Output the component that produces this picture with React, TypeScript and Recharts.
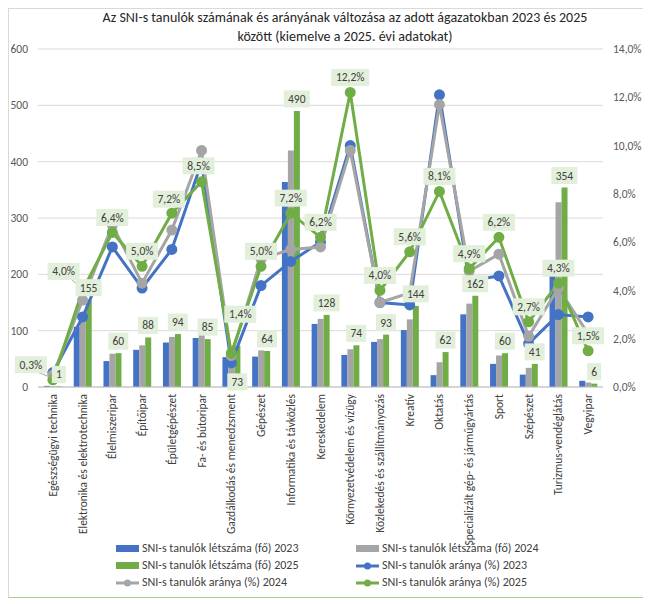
import {
    Bar,
    CartesianGrid,
    ComposedChart,
    LabelList,
    Line,
    XAxis,
    YAxis,
} from 'recharts';

const categories = [
    'Egészségügyi technika',
    'Elektronika és elektrotechnika',
    'Élelmiszeripar',
    'Építőipar',
    'Épületgépészet',
    'Fa- és bútoripar',
    'Gazdálkodás és menedzsment',
    'Gépészet',
    'Informatika és távközlés',
    'Kereskedelem',
    'Környezetvédelem és vízügy',
    'Közlekedés és szállítmányozás',
    'Kreatív',
    'Oktatás',
    'Specializált gép- és járműgyártás',
    'Sport',
    'Szépészet',
    'Turizmus-vendéglátás',
    'Vegyipar',
];

// létszám (fő)
const count2023 = [2, 107, 46, 66, 79, 87, 53, 54, 364, 112, 57, 80, 101, 21, 129, 41, 22, 198, 11];
const count2024 = [1, 130, 59, 74, 89, 92, 56, 65, 420, 121, 67, 85, 120, 44, 148, 56, 34, 328, 8];
const count2025 = [1, 155, 60, 88, 94, 85, 73, 64, 490, 128, 74, 93, 144, 62, 162, 60, 41, 354, 6];

// arány (%)
const rate2023 = [0.6, 2.9, 5.8, 4.1, 5.7, 9.3, 1.0, 4.2, 5.2, 6.0, 10.0, 3.5, 3.4, 12.1, 4.4, 4.6, 1.8, 3.0, 2.9];
const rate2024 = [0.5, 3.6, 6.7, 4.3, 6.5, 9.8, 1.3, 5.3, 5.7, 5.8, 9.8, 3.5, 3.9, 11.7, 4.8, 5.5, 2.1, 4.1, 2.2];
const rate2025 = [0.3, 4.0, 6.4, 5.0, 7.2, 8.5, 1.4, 5.0, 7.2, 6.2, 12.2, 4.0, 5.6, 8.1, 4.9, 6.2, 2.7, 4.3, 1.5];

const countTicks = [0, 100, 200, 300, 400, 500, 600];
const rateTicks = [0, 2, 4, 6, 8, 10, 12, 14];

const data = categories.map((name, i) => ({
    name,
    c23: count2023[i],
    c24: count2024[i],
    c25: count2025[i],
    r23: rate2023[i],
    r24: rate2024[i],
    r25: rate2025[i],
}));

const BLUE = '#4472C4';
const GRAY = '#A5A5A5';
const GREEN = '#70AD47';
const LABEL_BG = '#E2EFDA';
const TEXT = '#404040';
const FONT = "Carlito, Calibri, 'Liberation Sans Narrow', 'DejaVu Sans Condensed', 'Liberation Sans', sans-serif";

const BAR = 6;

const pct = (v: number) => v.toFixed(1).replace('.', ',') + '%';

// hand-placed label offsets (box centre relative to the point)
const rateOffsets: Record<number, [number, number]> = {
    0: [-22, -15],
    1: [-19, -19],
    4: [-3, -14],
    5: [-3, -16],
    6: [9, -39],
};
const leaderLines = [0, 1];

function LabelBox({ cx, cy, text }: { cx: number; cy: number; text: string }) {
    const w = text.length * 6 + 8;
    const h = 17;
    return (
        <g>
            <rect x={cx - w / 2} y={cy - h / 2} width={w} height={h} fill={LABEL_BG} />
            <text
                x={cx}
                y={cy}
                dy="0.35em"
                textAnchor="middle"
                fontSize={11.5}
                fontFamily={FONT}
                fill={TEXT}
            >
                {text}
            </text>
        </g>
    );
}

function RateLabel(props: any) {
    const { x, y, value, index } = props;
    const [dx, dy] = rateOffsets[index] ?? [0, -15];
    const text = pct(value);
    return (
        <g>
            {leaderLines.includes(index) && (
                <line x1={x + dx + 8} y1={y + dy + 8} x2={x - 1} y2={y - 2} stroke="#A6A6A6" strokeWidth={1} />
            )}
            <LabelBox cx={x + dx} cy={y + dy} text={text} />
        </g>
    );
}

function CountLabel(props: any) {
    const { x, y, value, index } = props;
    const dy = index === 6 ? 36 : -12;
    return <LabelBox cx={x + BAR} cy={y + dy} text={String(value)} />;
}

function CategoryTick(props: any) {
    const { x, y, payload } = props;
    return (
        <text
            x={x}
            y={y - 1}
            dy="0.35em"
            textAnchor="end"
            transform={`rotate(-90, ${x}, ${y - 1})`}
            fontSize={11.5}
            fontFamily={FONT}
            fill={TEXT}
        >
            {payload.value}
        </text>
    );
}

const legendItems = [
    { label: 'SNI-s tanulók létszáma (fő) 2023', color: BLUE, kind: 'bar' },
    { label: 'SNI-s tanulók létszáma (fő) 2024', color: GRAY, kind: 'bar' },
    { label: 'SNI-s tanulók létszáma (fő) 2025', color: GREEN, kind: 'bar' },
    { label: 'SNI-s tanulók aránya (%) 2023', color: BLUE, kind: 'line' },
    { label: 'SNI-s tanulók aránya (%) 2024', color: GRAY, kind: 'line' },
    { label: 'SNI-s tanulók aránya (%) 2025', color: GREEN, kind: 'line' },
];

function LegendSymbol({ color, kind }: { color: string; kind: string }) {
    if (kind === 'bar') {
        return <svg width={23} height={8}><rect x={0} y={0} width={23} height={7} fill={color} /></svg>;
    }
    return (
        <svg width={23} height={8}>
            <line x1={0} y1={4} x2={23} y2={4} stroke={color} strokeWidth={3} />
            <circle cx={11.5} cy={4} r={3.5} fill={color} />
        </svg>
    );
}

export default function App() {
    return (
        <div
            style={{
                position: 'relative',
                width: 639,
                height: 588,
                borderTop: '1px solid #D9D9D9',
                borderLeft: '1px solid #D9D9D9',
                borderRight: '1px solid #A9D18E',
                borderBottom: '1px solid #A9D18E',
                background: '#fff',
                fontFamily: FONT,
            }}
        >
            <div
                style={{
                    position: 'absolute',
                    left: 36,
                    top: -1,
                    width: 600,
                    textAlign: 'center',
                    fontSize: 14,
                    lineHeight: '19px',
                    color: '#262626',
                }}
            >
                Az SNI-s tanulók számának és arányának változása az adott ágazatokban 2023 és 2025
                <br />
                között (kiemelve a 2025. évi adatokat)
            </div>
            <ComposedChart
                width={639}
                height={588}
                data={data}
                margin={{ top: 40, right: 0, bottom: 60, left: 0 }}
                barSize={BAR}
                barGap={0}
            >
                <CartesianGrid yAxisId="count" vertical={false} stroke="#D9D9D9" />
                <XAxis
                    dataKey="name"
                    interval={0}
                    height={150}
                    tickLine={false}
                    axisLine={{ stroke: '#BFBFBF' }}
                    tick={<CategoryTick />}
                />
                <YAxis
                    yAxisId="count"
                    width={29}
                    domain={[0, 600]}
                    ticks={countTicks}
                    axisLine={false}
                    tickLine={false}
                    tickMargin={4}
                    tick={{ fill: '#595959', fontSize: 11.5, fontFamily: FONT }}
                />
                <YAxis
                    yAxisId="rate"
                    orientation="right"
                    width={45}
                    domain={[0, 14]}
                    ticks={rateTicks}
                    tickFormatter={pct}
                    axisLine={false}
                    tickLine={false}
                    tickMargin={4}
                    tick={{ fill: '#595959', fontSize: 11.5, fontFamily: FONT, textAnchor: 'start' }}
                />
                <Bar yAxisId="count" dataKey="c23" fill={BLUE} isAnimationActive={false} />
                <Bar yAxisId="count" dataKey="c24" fill={GRAY} isAnimationActive={false} />
                <Bar yAxisId="count" dataKey="c25" fill={GREEN} isAnimationActive={false} />
                <Line
                    yAxisId="rate"
                    dataKey="r23"
                    stroke={BLUE}
                    strokeWidth={3}
                    dot={{ r: 4, fill: BLUE, stroke: BLUE }}
                    isAnimationActive={false}
                />
                <Line
                    yAxisId="rate"
                    dataKey="r24"
                    stroke={GRAY}
                    strokeWidth={3}
                    dot={{ r: 4, fill: GRAY, stroke: GRAY }}
                    isAnimationActive={false}
                />
                <Line
                    yAxisId="rate"
                    dataKey="r25"
                    stroke={GREEN}
                    strokeWidth={3}
                    dot={{ r: 4, fill: GREEN, stroke: GREEN }}
                    isAnimationActive={false}
                >
                    <LabelList dataKey="r25" content={<RateLabel />} />
                </Line>
                {/* carries the 2025 count labels above the line layer */}
                <Line
                    yAxisId="count"
                    dataKey="c25"
                    stroke="none"
                    dot={false}
                    activeDot={false}
                    legendType="none"
                    isAnimationActive={false}
                >
                    <LabelList dataKey="c25" content={<CountLabel />} />
                </Line>
            </ComposedChart>
            <div
                style={{
                    position: 'absolute',
                    left: 107,
                    top: 532,
                    display: 'grid',
                    gridTemplateColumns: '240px 240px',
                    rowGap: 2,
                    fontSize: 12,
                    lineHeight: '15px',
                    color: TEXT,
                }}
            >
                {legendItems.map((it) => (
                    <div key={it.label} style={{ display: 'flex', alignItems: 'center', gap: 3 }}>
                        <LegendSymbol color={it.color} kind={it.kind} />
                        <span>{it.label}</span>
                    </div>
                ))}
            </div>
        </div>
    );
}
